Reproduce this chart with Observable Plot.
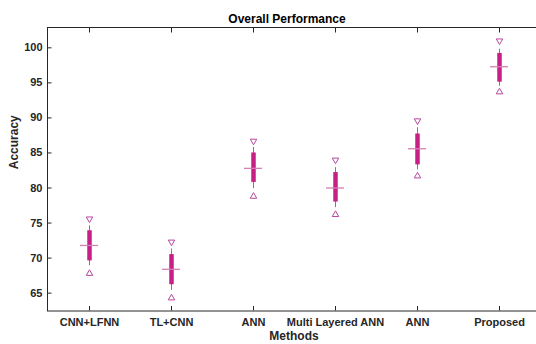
<!DOCTYPE html>
<html>
<head>
<meta charset="utf-8">
<script src="https://cdn.jsdelivr.net/npm/d3@7"></script>
<script src="https://cdn.jsdelivr.net/npm/@observablehq/plot@0.6"></script>
<style>
  html, body { margin: 0; padding: 0; background: #fff; overflow: hidden; }
  svg { display: block; }
</style>
</head>
<body>
<div id="chart"></div>
<script>
const methods = ["CNN+LFNN", "TL+CNN", "ANN", "Multi Layered ANN", "ANN", "Proposed"];
const notchHigh = [75.6, 72.3, 86.7, 84.0, 89.6, 101.0];
const whiskerHigh = [74.6, 71.3, 85.8, 82.9, 88.6, 99.8];
const q3 = [73.9, 70.5, 85.0, 82.2, 87.7, 99.2];
const median = [71.8, 68.4, 82.8, 80.0, 85.6, 97.3];
const q1 = [69.6, 66.2, 80.8, 78.0, 83.3, 95.1];
const whiskerLow = [68.9, 65.4, 79.9, 77.2, 82.6, 94.5];
const notchLow = [67.8, 64.3, 78.8, 76.2, 81.7, 93.7];
const yTicks = [65, 70, 75, 80, 85, 90, 95, 100];

const data = methods.map((m, i) => ({
  i, m, nh: notchHigh[i], wh: whiskerHigh[i], q3: q3[i], med: median[i],
  q1: q1[i], wl: whiskerLow[i], nl: notchLow[i]
}));

const axisColor = "#262626";
const font = "'Liberation Sans', Arial, Helvetica, sans-serif";
const idx = methods.map((_, i) => i);

const chart = Plot.plot({
  width: 536,
  height: 344,
  marginLeft: 47,
  marginRight: -4,
  marginTop: 27,
  marginBottom: 33.5,
  style: { fontFamily: font, fontSize: "11px", fontWeight: "bold", color: axisColor, background: "#fff" },
  x: { type: "band", domain: idx, padding: 0 },
  y: { domain: [62.45, 102.9] },
  marks: [
    Plot.frame({ stroke: axisColor, strokeWidth: 1 }),
    // tick marks on all four sides, pointing inward
    Plot.axisY(yTicks, { anchor: "left", tickSize: 4.5, dx: 4.5, text: null, label: null, stroke: axisColor }),
    Plot.axisY(yTicks, { anchor: "right", tickSize: 4.5, dx: -4.5, text: null, label: null, stroke: axisColor }),
    Plot.axisX(idx, { anchor: "top", tickSize: 4.5, dy: 4.5, text: null, label: null, stroke: axisColor }),
    Plot.axisX(idx, { anchor: "bottom", tickSize: 4.5, dy: -4.5, text: null, label: null, stroke: axisColor }),
    // tick labels
    Plot.axisY(yTicks, { anchor: "left", tickSize: 0, tickPadding: 5, label: null, fill: axisColor, fontWeight: "bold", fontSize: 11 }),
    Plot.axisX(idx, { anchor: "bottom", tickSize: 0, tickPadding: 7, label: null, tickFormat: i => methods[i], fill: axisColor, fontWeight: "bold", fontSize: 11 }),
    // whiskers
    Plot.ruleX(data, { x: "i", y1: "wl", y2: "wh", stroke: "#c9509f", strokeWidth: 1 }),
    // boxes
    Plot.ruleX(data, { x: "i", y1: "q1", y2: "q3", stroke: "#c81f86", strokeWidth: 4.5 }),
    // medians
    Plot.tickY(data, { x: "i", y: "med", stroke: "#d47fb4", strokeWidth: 1.3, insetLeft: 32, insetRight: 32 }),
    // notch markers
    Plot.dot(data, { x: "i", y: "nh", symbol: "triangle", rotate: 180, r: 2.4, stroke: "#b6479d", strokeWidth: 1, fill: "none" }),
    Plot.dot(data, { x: "i", y: "nl", symbol: "triangle", r: 2.4, stroke: "#b6479d", strokeWidth: 1, fill: "none" }),
    // title and axis titles
    Plot.text(["Overall Performance"], { frameAnchor: "top", dy: -13.5, dx: -7, fontSize: 12, fontWeight: "bold", fill: "#000" }),
    Plot.text(["Accuracy"], { frameAnchor: "left", dx: -33, rotate: -90, fontSize: 12, fontWeight: "bold", fill: axisColor }),
    Plot.text(["Methods"], { frameAnchor: "bottom", dy: 28.5, fontSize: 12, fontWeight: "bold", fill: axisColor })
  ]
});
document.getElementById("chart").appendChild(chart);
</script>
</body>
</html>
